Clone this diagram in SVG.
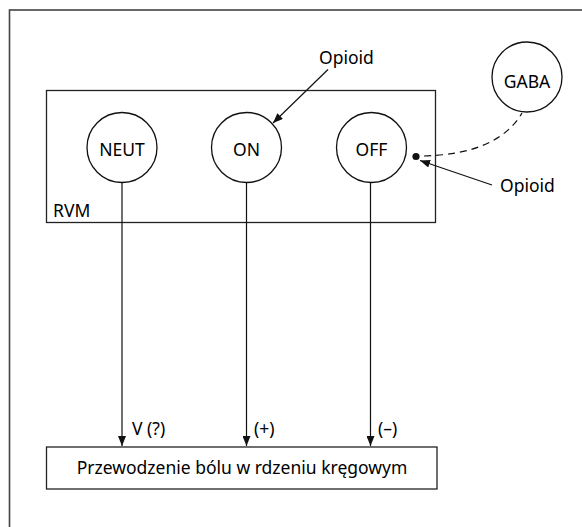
<svg xmlns="http://www.w3.org/2000/svg" width="582" height="527" viewBox="0 0 582 527">
<style>
text{font-family:"Noto Sans","Open Sans","Liberation Sans",sans-serif;font-size:17.5px;fill:#000}
.c{fill:#fff;stroke:#111;stroke-width:1.3}
.b{fill:none;stroke:#222;stroke-width:1.3}
.l{fill:none;stroke:#111;stroke-width:1.2}
.m{text-anchor:middle}
</style>
<defs>
<marker id="ah" viewBox="0 0 10 8" refX="10" refY="4" markerWidth="10" markerHeight="8" markerUnits="userSpaceOnUse" orient="auto">
<path d="M0,0 L10,4 L0,8 Z" fill="#111"/>
</marker>
</defs>
<rect x="9.5" y="10" width="700" height="700" fill="none" stroke="#444" stroke-width="1.6"/>
<g id="rvm">
<rect class="b" x="46.5" y="90.5" width="389" height="132"/>
<text x="53" y="217">RVM</text>
</g>
<g id="neut"><circle class="c" cx="122" cy="147.5" r="35"/><text class="m" x="122" y="156">NEUT</text></g>
<g id="on"><circle class="c" cx="246.5" cy="147.5" r="35"/><text class="m" x="246.5" y="156">ON</text></g>
<g id="off"><circle class="c" cx="371.5" cy="147.5" r="35"/><text class="m" x="371.5" y="156">OFF</text></g>
<g id="gaba"><circle class="c" cx="527" cy="77" r="35"/><text class="m" x="527" y="87.5">GABA</text></g>
<g id="opioid1"><text x="319" y="64">Opioid</text></g>
<g id="opioid2"><text x="500" y="192">Opioid</text></g>
<g id="target">
<rect class="b" x="46.5" y="447" width="390.5" height="42"/>
<text class="m" x="242" y="474">Przewodzenie bólu w rdzeniu kręgowym</text>
</g>
<g id="connectors">
<line class="l" x1="122" y1="182.5" x2="122" y2="446" marker-end="url(#ah)"/>
<line class="l" x1="246.5" y1="182.5" x2="246.5" y2="446" marker-end="url(#ah)"/>
<line class="l" x1="370.5" y1="182.5" x2="370.5" y2="446" marker-end="url(#ah)"/>
<line class="l" x1="328" y1="69.5" x2="273" y2="123" marker-end="url(#ah)"/>
<line class="l" x1="492" y1="185" x2="420" y2="160.5" marker-end="url(#ah)"/>
<circle cx="416" cy="156.5" r="3.6" fill="#111"/>
<path class="l" d="M424 156 Q498 154 522 113" stroke-dasharray="7 5"/>
<text x="132" y="435">V (?)</text>
<text x="254" y="435">(+)</text>
<text x="378" y="435">(–)</text>
</g>
</svg>
